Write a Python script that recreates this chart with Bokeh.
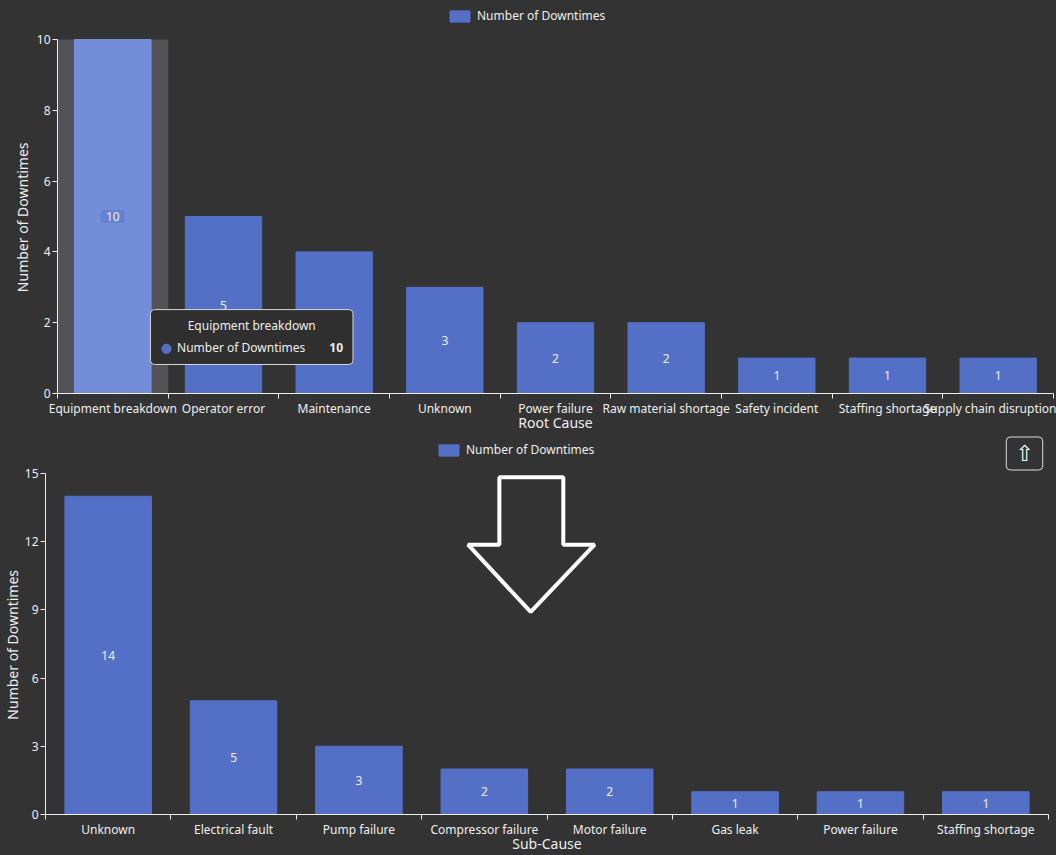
from bokeh.core.properties import value
from bokeh.embed import file_html
from bokeh.layouts import column, row
from bokeh.models import (BoxAnnotation, ColumnDataSource, FixedTicker, Label,
                          LabelSet, Legend, LegendItem, PolyAnnotation, Range1d, Title)
from bokeh.plotting import figure
from bokeh.resources import INLINE

FONT = "Noto Sans"
BG = "#333333"
BAR = "#5470c6"
BAR_HI = "#738dd9"
SHADOW = "#535357"
TEXT = "#eeeeee"
Y_TITLE_LEN = 148  # rendered length of the y title, px

series_name = "Number of Downtimes"

root_causes = ["Equipment breakdown", "Operator error", "Maintenance", "Unknown",
               "Power failure", "Raw material shortage", "Safety incident",
               "Staffing shortage", "Supply chain disruption"]
root_counts = [10, 5, 4, 3, 2, 2, 1, 1, 1]
root_ticks = [0, 2, 4, 6, 8, 10]

sub_causes = ["Unknown", "Electrical fault", "Pump failure", "Compressor failure",
              "Motor failure", "Gas leak", "Power failure", "Staffing shortage"]
sub_counts = [14, 5, 3, 2, 2, 1, 1, 1]
sub_ticks = [0, 3, 6, 9, 12, 15]

hovered = 0  # bar under the mouse in the upper chart


def bar_chart(cats, counts, ticks, x_label, height, left, right, frame_px, axis_px,
              y_title_standoff, legend_pos):
    n = len(cats)
    xs = list(range(n))
    # the frame reaches the top of the canvas so the legend can sit above the axis
    y_end = ticks[-1] * frame_px / axis_px
    p = figure(width=1056, height=height, x_range=Range1d(-0.5, n - 0.5),
               y_range=Range1d(0, y_end), output_backend="svg",
               toolbar_location=None, min_border_left=left, min_border_right=right,
               min_border_top=0, min_border_bottom=height - frame_px)
    p.background_fill_color = BG
    p.border_fill_color = BG
    p.styles = {"background-color": BG}
    p.outline_line_color = None
    p.grid.visible = False

    src = ColumnDataSource(dict(x=xs, top=counts, mid=[c / 2 for c in counts],
                                txt=[str(c) for c in counts]))
    bars = p.vbar(x="x", top="top", width=0.69, source=src, fill_color=BAR,
                  line_color=BAR)

    xa = p.xaxis[0]
    xa.ticker = FixedTicker(ticks=xs, minor_ticks=[i - 0.5 for i in range(n + 1)])
    xa.major_label_overrides = {i: c for i, c in enumerate(cats)}
    xa.major_tick_out = 0
    xa.major_tick_in = 0
    xa.minor_tick_out = 5
    xa.minor_tick_in = 0
    xa.minor_tick_line_color = TEXT
    xa.major_label_standoff = 1
    xa.axis_label = x_label
    xa.axis_label_standoff = -7

    ya = p.yaxis[0]
    ya.ticker = FixedTicker(ticks=ticks)
    ya.bounds = (0, ticks[-1])
    ya.minor_tick_line_color = None
    ya.major_tick_out = 5
    ya.major_tick_in = 0
    ya.major_label_standoff = 2

    for ax in (xa, ya):
        ax.axis_line_color = TEXT
        ax.major_tick_line_color = TEXT
        ax.major_label_text_color = TEXT
        ax.major_label_text_font = FONT
        ax.major_label_text_font_size = "12px"
        ax.axis_label_text_color = TEXT
        ax.axis_label_text_font = FONT
        ax.axis_label_text_font_size = "14px"
        ax.axis_label_text_font_style = "normal"

    # y title centred on the axis line, not on the taller frame
    axis_mid = frame_px - axis_px / 2
    p.add_layout(Title(text=series_name, align="right", offset=axis_mid - Y_TITLE_LEN / 2,
                       standoff=y_title_standoff, text_color=TEXT, text_font=FONT,
                       text_font_size="14px", text_font_style="normal"), "left")

    legend = Legend(items=[LegendItem(label=series_name, renderers=[bars])],
                    location=legend_pos, orientation="horizontal",
                    background_fill_alpha=0, border_line_color=None,
                    glyph_width=25, glyph_height=14, label_height=14,
                    label_standoff=5, padding=0, margin=0,
                    label_text_color=TEXT, label_text_font=FONT,
                    label_text_font_size="12px")
    p.add_layout(legend)
    return p, src


# upper chart: root causes
top, top_src = bar_chart(root_causes, root_counts, root_ticks, "Root Cause",
                         434, 57, 3, 393, 354, 3, (390, 369))

hi = ColumnDataSource(dict(x=[hovered], top=[root_counts[hovered]]))
top.vbar(x="x", top=root_ticks[-1], width=1, source=hi,
         fill_color=SHADOW, line_color=None, level="underlay")
top.vbar(x="x", top="top", width=0.69, source=hi, fill_color=BAR_HI, line_color=BAR_HI)

rest = ColumnDataSource(dict(
    x=[i for i in range(len(root_counts)) if i != hovered],
    mid=[c / 2 for i, c in enumerate(root_counts) if i != hovered],
    txt=[str(c) for i, c in enumerate(root_counts) if i != hovered]))
top.add_layout(LabelSet(x="x", y="mid", text="txt", source=rest, text_align="center",
                        text_baseline="middle", text_color=TEXT, text_font=value(FONT),
                        text_font_size="12px"))
top.add_layout(Label(x=hovered, y=root_counts[hovered] / 2, text=str(root_counts[hovered]),
                     text_align="center", text_baseline="middle", text_color=TEXT,
                     text_font=FONT, text_font_size="12px",
                     background_fill_color="#6681cf", padding=(5, 2), border_radius=2))

# tooltip for the hovered bar
top.add_layout(BoxAnnotation(left=hovered + 0.34, right=hovered + 2.17, bottom=0.82, top=2.37,
                             fill_color="#2f2f2f", fill_alpha=1, line_color="#d8d8d8",
                             line_alpha=1, line_width=1, border_radius=4))
top.add_layout(Label(x=hovered + 1.255, y=1.92, text=root_causes[hovered],
                     text_align="center", text_baseline="middle", text_color=TEXT,
                     text_font=FONT, text_font_size="12px"))
top.add_layout(Label(x=hovered + 0.485, y=1.30, text="\u25cf", text_align="center",
                     text_baseline="middle", text_color=BAR, text_font="DejaVu Sans",
                     text_font_size="13px"))
top.add_layout(Label(x=hovered + 0.58, y=1.30, text=series_name, text_align="left",
                     text_baseline="middle", text_color=TEXT, text_font=FONT,
                     text_font_size="12px"))
top.add_layout(Label(x=hovered + 2.08, y=1.30, text=str(root_counts[hovered]),
                     text_align="right", text_baseline="middle", text_color=TEXT,
                     text_font=FONT, text_font_size="12px", text_font_style="bold"))

# lower chart: sub causes
bottom, bot_src = bar_chart(sub_causes, sub_counts, sub_ticks, "Sub-Cause",
                            421, 44, 8, 380, 341, 0, (391, 356))
bottom.add_layout(LabelSet(x="x", y="mid", text="txt", source=bot_src, text_align="center",
                           text_baseline="middle", text_color=TEXT, text_font=value(FONT),
                           text_font_size="12px"))

# drill-down arrow and back-to-top button
bottom.add_layout(PolyAnnotation(xs=[3.12, 3.63, 3.63, 3.88, 3.37, 2.87, 3.12],
                                 ys=[14.83, 14.83, 11.87, 11.87, 8.91, 11.87, 11.87],
                                 fill_alpha=0, line_color="white", line_alpha=1,
                                 line_width=4))
bottom.add_layout(Label(x=979, y=361, x_units="screen", y_units="screen", text="\u21e7",
                        text_align="center", text_baseline="middle", text_color="white",
                        text_font="DejaVu Sans", text_font_size="22px",
                        border_line_color="#dddddd", border_radius=4, padding=(9, 4)))

# each chart in its own row so their frames are not lined up with each other
page = column(row(top, styles={"background-color": BG}),
              row(bottom, styles={"background-color": BG}),
              styles={"background-color": BG})
open("out.html", "w").write(file_html(page, INLINE))
